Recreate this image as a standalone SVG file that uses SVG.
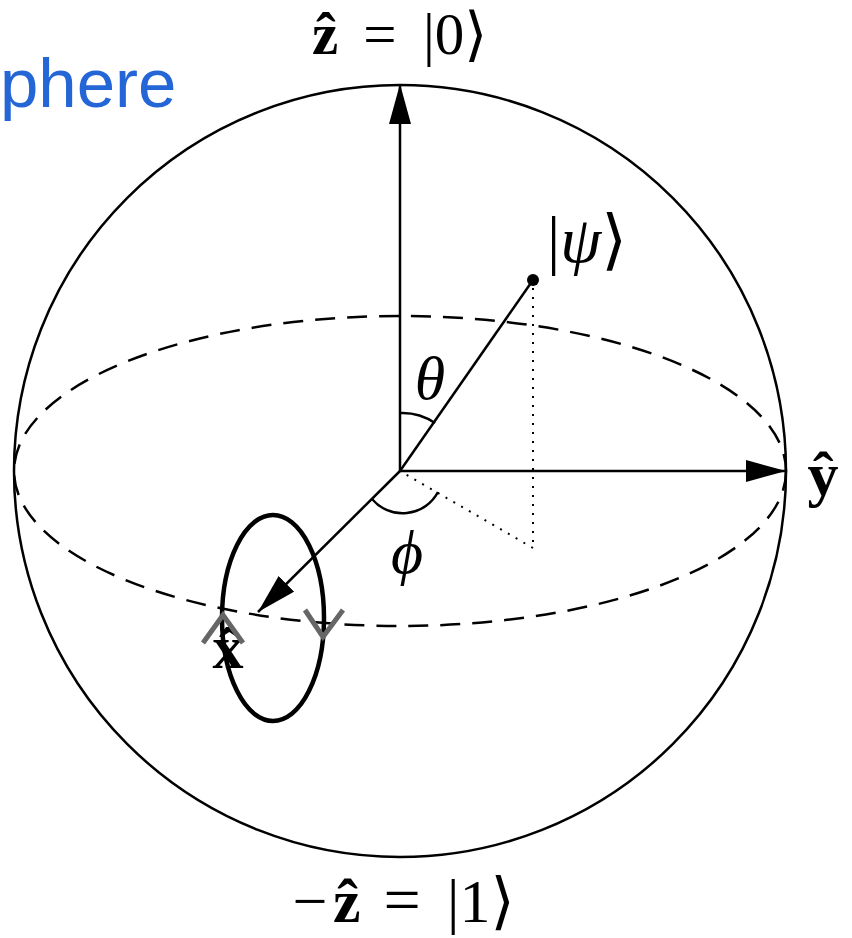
<svg xmlns="http://www.w3.org/2000/svg" width="852" height="938" viewBox="0 0 852 938">
<defs>
<style>
.ln{stroke:#000;stroke-width:2.5;fill:none}
.m{font-family:"Liberation Serif","DejaVu Serif",serif;font-size:62px;fill:#000}
.t{font-size:59px}
.b{font-weight:bold}
.i{font-style:italic}
.chev{stroke:#666;stroke-width:5;fill:none;stroke-linejoin:miter}
</style>
<marker id="ah" markerUnits="userSpaceOnUse" markerWidth="42" markerHeight="24" refX="40" refY="11" orient="auto">
<path d="M0,0 L40,11 L0,22 Z" fill="#000"/>
</marker>
</defs>
<rect width="852" height="938" fill="#fff"/>
<text x="0" y="107" style="font-family:'Liberation Sans',Arial,sans-serif;font-size:69px;fill:#2566d6">phere</text>
<g id="sphere">
<circle cx="400" cy="471" r="386" class="ln" stroke-width="2"/>
<ellipse cx="400" cy="471" rx="386" ry="155" class="ln" stroke-width="2" stroke-dasharray="20 12"/>
</g>
<g id="connectors">
<line x1="400" y1="471" x2="400" y2="84" class="ln" marker-end="url(#ah)"/>
<line x1="400" y1="471" x2="786" y2="471" class="ln" marker-end="url(#ah)"/>
<line x1="400" y1="471" x2="258" y2="612" class="ln" marker-end="url(#ah)"/>
<line x1="400" y1="471" x2="533" y2="280" class="ln"/>
<line x1="533" y1="288" x2="533" y2="548" stroke="#000" stroke-width="2" stroke-dasharray="2 7" fill="none"/>
<line x1="533" y1="548" x2="405" y2="474" stroke="#000" stroke-width="2" stroke-dasharray="2 7" fill="none"/>
<path d="M400,413 A58,58 0 0,1 435,423" class="ln" stroke-width="2"/>
<path d="M372,499 A40,40 0 0,0 438,492" class="ln" stroke-width="2"/>
</g>
<g id="psi">
<circle cx="533" cy="280" r="6" fill="#000"/>
<text x="547" y="262" class="m" style="font-size:66px">|<tspan class="i">ψ</tspan>⟩</text>
</g>
<g id="theta"><text x="430" y="399" text-anchor="middle" class="m i">θ</text></g>
<g id="phi"><text x="407" y="573" text-anchor="middle" class="m i">ϕ</text></g>
<g id="zlabel">
<text x="312" y="54" class="m t b">ẑ</text>
<text x="380" y="54" text-anchor="middle" class="m t">=</text>
<text x="423" y="54" class="m t">|0⟩</text>
</g>
<g id="mzlabel">
<text x="310" y="922" text-anchor="middle" class="m">−</text>
<text x="333" y="922" class="m b">ẑ</text>
<text x="402" y="922" text-anchor="middle" class="m" style="font-size:66px">=</text>
<text x="447" y="922" class="m">|1⟩</text>
</g>
<g id="ylabel"><text x="823" y="495" text-anchor="middle" class="m b">ŷ</text></g>
<g id="xlabel"><text x="228" y="668" text-anchor="middle" class="m b">x̂</text></g>
<g id="loop">
<ellipse cx="273" cy="618" rx="51" ry="103" fill="none" stroke="#000" stroke-width="4.5"/>
<polyline points="203,643 223,615 243,643" class="chev"/>
<polyline points="305,610 323,637 343,610" class="chev"/>
</g>
</svg>
